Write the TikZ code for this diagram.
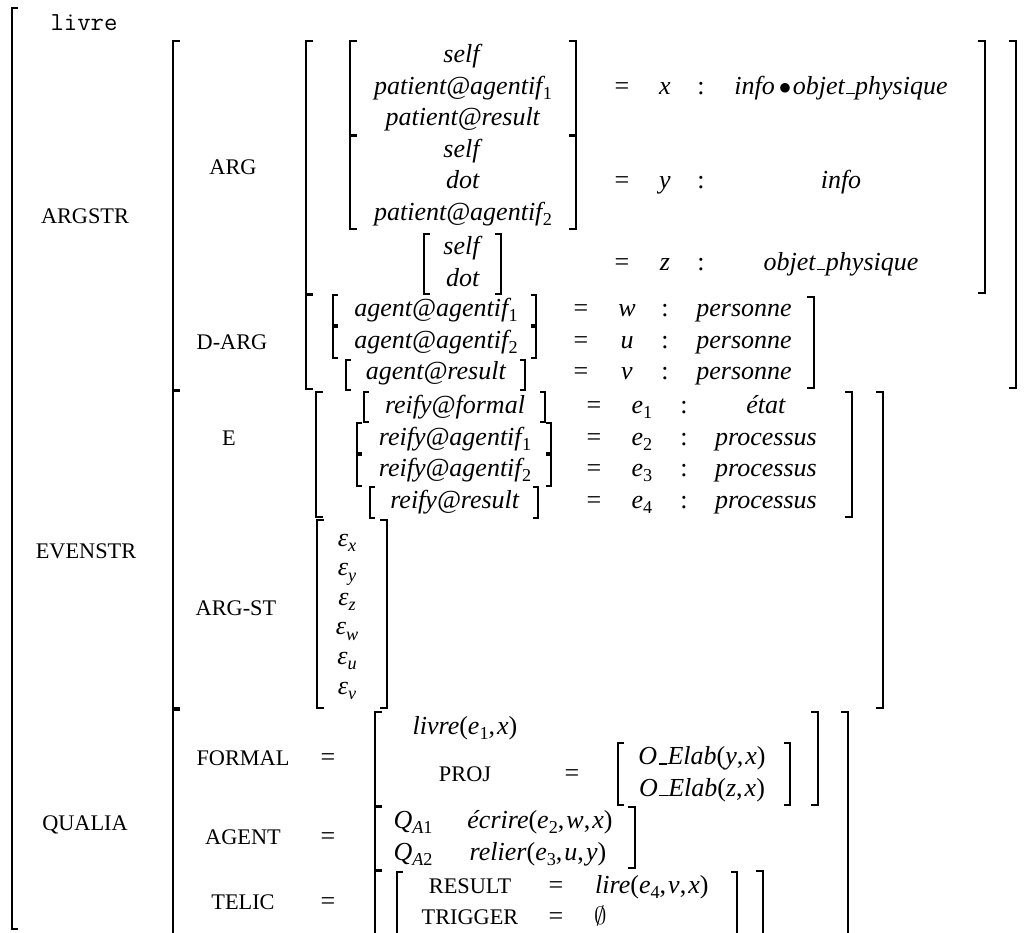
\documentclass[tikz,border=0pt]{standalone}
\usepackage{fontspec}
\setmainfont{Liberation Serif}
\newcommand\sbs[1]{\raisebox{-0.21em}{\fontsize{18.2}{20}\selectfont #1}}
\newcommand\sbn[1]{\sbs{\upshape #1}}
\newcommand\sbf[1]{\kern-0.1em\sbs{\upshape #1}}
\newcommand\usc{\kern.06em\vbox{\hrule width .32em height 1.1pt}\kern.02em}
\newcommand\vi[1]{\textit{#1}}
\newcommand\bkL[5]{\draw[#1] ({#2+#5},#3) -- (#2,#3) -- (#2,#4) -- ({#2+#5},#4);}
\newcommand\bkR[5]{\draw[#1] ({#2-#5},#3) -- (#2,#3) -- (#2,#4) -- ({#2-#5},#4);}
\newcommand\bkLo[4]{\draw[#1] ({#2+#4},#3) -- (#2,#3) -- (#2,940);}
\newcommand\bkRo[4]{\draw[#1] ({#2-#4},#3) -- (#2,#3) -- (#2,940);}
\tikzset{
  bk/.style={line width=1.8pt, line join=miter},
  bkm/.style={line width=1.5pt, line join=miter},
  bks/.style={line width=1.1pt, line join=miter},
  txt/.style={anchor=base, inner sep=0pt, font=\fontsize{26}{31}\selectfont},
  txtw/.style={txt, anchor=base west},
  lab/.style={anchor=base, inner sep=0pt, font=\fontsize{22.3}{26}\selectfont},
  mono/.style={anchor=base, inner sep=0pt, font=\ttfamily\fontsize{26}{30}\selectfont},
}
\begin{document}
\begin{tikzpicture}[x=1pt,y=-1pt]
\useasboundingbox (0,0) rectangle (1035,932);
\clip (0,0) rectangle (1035,932);
% ---------- brackets ----------
\bkL{bk}{12}{8}{929}{6}
\bkL{bk}{173}{41}{390}{7}
\bkL{bk}{173}{391}{708}{7}
\bkLo{bk}{173}{710}{7}
\bkR{bk}{1016}{41}{388}{7}
\bkR{bk}{883}{392}{708}{7}
\bkRo{bk}{848}{712}{7}
% level 3
\bkL{bk}{306}{41}{294}{7}
\bkR{bk}{985}{41}{293}{7}
\bkL{bk}{306}{295}{389}{7}
\bkR{bk}{814}{297}{388}{7}
\bkL{bk}{316}{392}{517}{7}
\bkR{bk}{852}{392}{517}{7}
\bkL{bk}{317}{520}{708}{7}
\bkR{bk}{387}{520}{708}{7}
\bkL{bk}{375}{712}{806}{7}
\bkR{bk}{818}{712}{805}{7}
\bkL{bk}{375}{807}{870}{7}
\bkR{bk}{635}{807}{868}{7}
\bkLo{bk}{375}{871}{7}
\bkRo{bk}{763}{871}{7}
% ARG inner
\bkL{bk}{350}{41}{135}{7}
\bkR{bk}{576}{41}{135}{7}
\bkL{bk}{350}{136}{229}{7}
\bkR{bk}{576}{136}{229}{7}
\bkL{bkm}{424}{234}{294}{6}
\bkR{bkm}{501}{234}{294}{6}
% D-ARG rows
\bkL{bks}{333}{295}{325}{5}
\bkR{bks}{536}{295}{325}{5}
\bkL{bks}{333}{327}{358}{5}
\bkR{bks}{536}{327}{358}{5}
\bkL{bks}{346}{360}{390}{5}
\bkR{bks}{525}{360}{390}{5}
% E rows
\bkL{bks}{364}{392}{422}{5}
\bkR{bks}{545}{392}{422}{5}
\bkL{bks}{357}{423}{453}{5}
\bkR{bks}{551}{423}{453}{5}
\bkL{bks}{357}{455}{486}{5}
\bkR{bks}{551}{455}{486}{5}
\bkL{bks}{370}{487}{518}{5}
\bkR{bks}{538}{487}{518}{5}
% PROJ and TELIC inner
\bkL{bkm}{618}{743}{805}{6}
\bkR{bkm}{790}{743}{805}{6}
\bkLo{bkm}{397}{872}{6}
\bkRo{bkm}{737}{872}{6}
% ---------- texts ----------
\node[mono] (livre) at (84,30) {livre};
\node[lab] (argstr) at (85,223) {ARGSTR};
\node[lab] (evenstr) at (86,558) {EVENSTR};
\node[lab] (qualia) at (85,830) {QUALIA};
\node[lab] (arg) at (233,174) {ARG};
\node[lab] (darg) at (232,349) {D-ARG};
\node[lab] (e) at (229,445) {E};
\node[lab] (argst) at (236,615) {ARG-ST};
\node[lab] (formal) at (243,765) {FORMAL};
\node[lab] (agent) at (243,844.5) {AGENT};
\node[lab] (telic) at (243,909) {TELIC};
\node[txt] (eqf) at (328,765) {=};
\node[txt] (eqa) at (328,844.5) {=};
\node[txt] (eqt) at (328,909) {=};
% ARG block
\node[txt] (a11) at (463,62.7) {\vi{self}};
\node[txt] (a12) at (463,94) {\vi{patient@agentif}\sbf{1}};
\node[txt] (a13) at (463,125.3) {\vi{patient@result}};
\node[txt] (a21) at (463,157) {\vi{self}};
\node[txt] (a22) at (463,188.5) {\vi{dot}};
\node[txt] (a23) at (463,220) {\vi{patient@agentif}\sbf{2}};
\node[txt] (a31) at (463,254.5) {\vi{self}};
\node[txt] (a32) at (463,286) {\vi{dot}};
\node[txt] (eq1) at (622,94.4) {=};
\node[txt] (v1) at (665,94.4) {\vi{x}};
\node[txt] (c1) at (701,94.4) {:};
\node[txt] (t1) at (841,94.4) {\vi{info}\hspace{0.15em}$\bullet$\hspace{0.06em}\vi{objet\usc physique}};
\node[txt] (eq2) at (622,188.5) {=};
\node[txt] (v2) at (665,188.5) {\vi{y}};
\node[txt] (c2) at (701,188.5) {:};
\node[txt] (t2) at (841,188.5) {\vi{info}};
\node[txt] (eq3) at (622,270.4) {=};
\node[txt] (v3) at (665,270.4) {\vi{z}};
\node[txt] (c3) at (701,270.4) {:};
\node[txt] (t3) at (841,270.4) {\vi{objet\usc physique}};
% D-ARG
\node[txt] (d1) at (436,316.5) {\vi{agent@agentif}\sbf{1}};
\node[txt] (d2) at (436,348) {\vi{agent@agentif}\sbf{2}};
\node[txt] (d3) at (436,379.5) {\vi{agent@result}};
\node[txt] (deq1) at (581,316.5) {=};
\node[txt] (deq2) at (581,348) {=};
\node[txt] (deq3) at (581,379.5) {=};
\node[txt] (dv1) at (627,316.5) {\vi{w}};
\node[txt] (dv2) at (627,348) {\vi{u}};
\node[txt] (dv3) at (627,379.5) {\vi{v}};
\node[txt] (dc1) at (665,316.5) {:};
\node[txt] (dc2) at (665,348) {:};
\node[txt] (dc3) at (665,379.5) {:};
\node[txt] (dt1) at (744,316.5) {\vi{personne}};
\node[txt] (dt2) at (744,348) {\vi{personne}};
\node[txt] (dt3) at (744,379.5) {\vi{personne}};
% E
\node[txt] (r1) at (455,413.5) {\vi{reify@formal}};
\node[txt] (r2) at (455,445) {\vi{reify@agentif}\sbf{1}};
\node[txt] (r3) at (455,476.5) {\vi{reify@agentif}\sbf{2}};
\node[txt] (r4) at (455,508) {\vi{reify@result}};
\node[txt] (req1) at (594,413.5) {=};
\node[txt] (req2) at (594,445) {=};
\node[txt] (req3) at (594,476.5) {=};
\node[txt] (req4) at (594,508) {=};
\node[txt] (rv1) at (642,413.5) {\vi{e}\sbn{1}};
\node[txt] (rv2) at (642,445) {\vi{e}\sbn{2}};
\node[txt] (rv3) at (642,476.5) {\vi{e}\sbn{3}};
\node[txt] (rv4) at (642,508) {\vi{e}\sbn{4}};
\node[txt] (rc1) at (684,413.5) {:};
\node[txt] (rc2) at (684,445) {:};
\node[txt] (rc3) at (684,476.5) {:};
\node[txt] (rc4) at (684,508) {:};
\node[txt] (rt1) at (766,413.5) {\vi{état}};
\node[txt] (rt2) at (766,445) {\vi{processus}};
\node[txt] (rt3) at (766,476.5) {\vi{processus}};
\node[txt] (rt4) at (766,508) {\vi{processus}};
% ARG-ST
\node[txt] (ex) at (347,546) {\vi{ε}\sbs{\itshape x}};
\node[txt] (ey) at (347,575.6) {\vi{ε}\sbs{\itshape y}};
\node[txt] (ez) at (347,605.2) {\vi{ε}\sbs{\itshape z}};
\node[txt] (ew) at (347,634.8) {\vi{ε}\sbs{\itshape w}};
\node[txt] (eu) at (347,664.4) {\vi{ε}\sbs{\itshape u}};
\node[txt] (ev) at (347,694) {\vi{ε}\sbs{\itshape v}};
% QUALIA
\node[txt] (f1) at (465,734) {\vi{livre}(\vi{e}\sbn{1},\hspace{0.08em}\vi{x})};
\node[lab] (proj) at (465,781) {PROJ};
\node[txt] (peq) at (572,781) {=};
\node[txt] (o1) at (702,764.5) {\vi{O\usc Elab}(\vi{y},\hspace{0.08em}\vi{x})};
\node[txt] (o2) at (702,796) {\vi{O\usc Elab}(\vi{z},\hspace{0.08em}\vi{x})};
\node[txt] (q1) at (413,828.5) {\vi{Q}\sbs{\itshape A\upshape 1}};
\node[txt] (q2) at (413,860) {\vi{Q}\sbs{\itshape A\upshape 2}};
\node[txt] (ecr) at (540,828.5) {\vi{écrire}(\vi{e}\sbn{2},\hspace{0.08em}\vi{w},\hspace{0.08em}\vi{x})};
\node[txt] (rel) at (538,860) {\vi{relier}(\vi{e}\sbn{3},\hspace{0.08em}\vi{u},\hspace{0.08em}\vi{y})};
\node[lab] (res) at (470,893) {RESULT};
\node[lab] (trig) at (470,924.5) {TRIGGER};
\node[txt] (teq1) at (556,893) {=};
\node[txt] (teq2) at (556,924.5) {=};
\node[txtw] (lire) at (595,893) {\vi{lire}(\vi{e}\sbn{4},\hspace{0.08em}\vi{v},\hspace{0.08em}\vi{x})};
\node[txtw] (empt) at (594,924.5) {$\emptyset$};
\end{tikzpicture}
\end{document}
